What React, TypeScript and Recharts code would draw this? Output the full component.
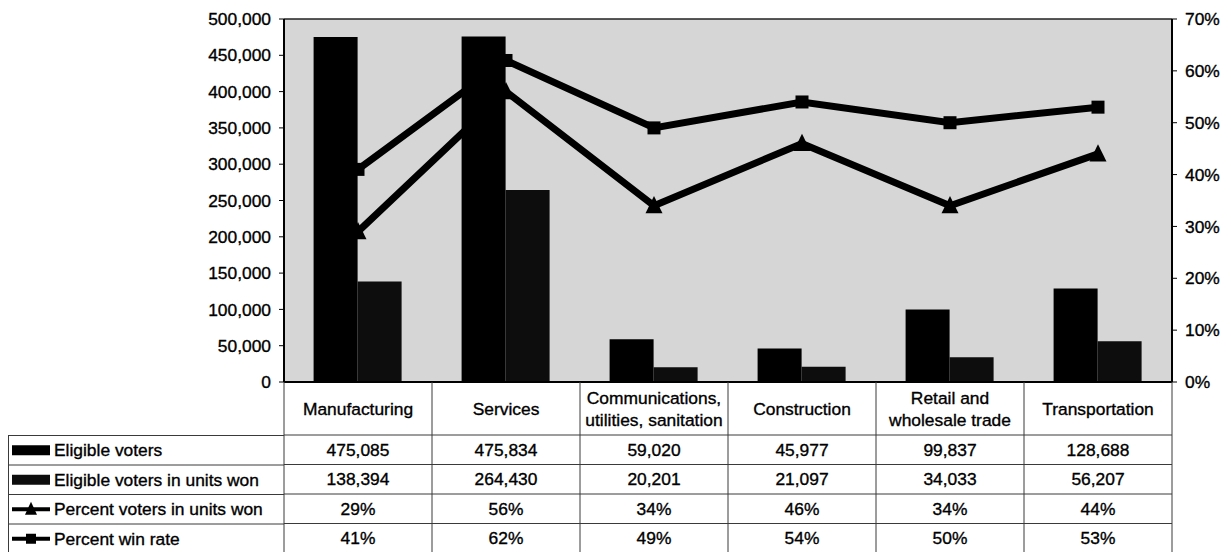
import {
  ComposedChart,
  Bar,
  Line,
  XAxis,
  YAxis,
  CartesianGrid,
  Legend,
  ReferenceLine,
} from "recharts";

const industries = [
  "Manufacturing",
  "Services",
  "Communications, utilities, sanitation",
  "Construction",
  "Retail and wholesale trade",
  "Transportation",
];
// how the column headers wrap in the table
const headerLines = [
  ["Manufacturing"],
  ["Services"],
  ["Communications,", "utilities, sanitation"],
  ["Construction"],
  ["Retail and", "wholesale trade"],
  ["Transportation"],
];

const eligibleVoters = [475085, 475834, 59020, 45977, 99837, 128688];
const votersInUnitsWon = [138394, 264430, 20201, 21097, 34033, 56207];
const pctVotersInUnitsWon = [29, 56, 34, 46, 34, 44];
const pctWinRate = [41, 62, 49, 54, 50, 53];

const leftTicks = [0, 50000, 100000, 150000, 200000, 250000, 300000, 350000, 400000, 450000, 500000];
const rightTicks = [0, 10, 20, 30, 40, 50, 60, 70];

const FONT = "'Liberation Sans', Arial, sans-serif";
const FS = 17.4;
const GRID = "#3a3a3a";
// scanned print looks a bit heavier than screen text
const TEXT_STROKE = { stroke: "#000", strokeWidth: 0.35 };

const data = industries.map((industry, i) => ({
  industry,
  eligible: eligibleVoters[i],
  won: votersInUnitsWon[i],
  pctWon: pctVotersInUnitsWon[i],
  winRate: pctWinRate[i],
}));

const fmtNum = (v: number) => v.toLocaleString("en-US");
const fmtPct = (v: number) => `${v}%`;

// table rows under the plot, same order as the legend
const tableRows = [
  eligibleVoters.map(fmtNum),
  votersInUnitsWon.map(fmtNum),
  pctVotersInUnitsWon.map(fmtPct),
  pctWinRate.map(fmtPct),
];

const HEADER_H = 53;
const ROW_H = 29.5;

function TableColumn(props: any) {
  const { x, y, payload, index } = props;
  const half = payload?.offset || 74;
  const i = index ?? payload?.index ?? 0;
  const left = x - half;
  const right = x + half;
  const bottom = y + HEADER_H + ROW_H * 4;
  const lines = headerLines[i] || [String(payload.value)];
  return (
    <g fontFamily={FONT} fontSize={FS}>
      <line x1={left} x2={left} y1={y} y2={bottom} stroke={GRID} strokeWidth={1} />
      {i === industries.length - 1 && (
        <line x1={right} x2={right} y1={y} y2={bottom} stroke={GRID} strokeWidth={1} />
      )}
      {[0, 1, 2, 3, 4].map((k) => (
        <line
          key={k}
          x1={left}
          x2={right}
          y1={y + HEADER_H + ROW_H * k}
          y2={y + HEADER_H + ROW_H * k}
          stroke={GRID}
          strokeWidth={1}
        />
      ))}
      {lines.map((t, k) => (
        <text
          key={t}
          x={x}
          y={y + HEADER_H / 2 + (k - (lines.length - 1) / 2) * 22}
          textAnchor="middle"
          dominantBaseline="central"
          fill="#000"
          {...TEXT_STROKE}
        >
          {t}
        </text>
      ))}
      {tableRows.map((row, k) => (
        <text
          key={k}
          x={x}
          y={y + HEADER_H + ROW_H * k + ROW_H / 2}
          textAnchor="middle"
          dominantBaseline="central"
          fill="#000"
          {...TEXT_STROKE}
        >
          {row[i]}
        </text>
      ))}
    </g>
  );
}

function Triangle({ cx, cy, size, fill }: any) {
  const h = size * 0.9;
  return (
    <polygon
      points={`${cx},${cy - h / 2 - 2} ${cx - size / 2},${cy + h / 2} ${cx + size / 2},${cy + h / 2}`}
      fill={fill}
    />
  );
}

function Square({ cx, cy, size, fill }: any) {
  return <rect x={cx - size / 2} y={cy - size / 2} width={size} height={size} fill={fill} />;
}

function LegendTable(props: any) {
  const { payload = [] } = props;
  const w = 276;
  return (
    <svg width={w} height={ROW_H * 4 + 2} style={{ display: "block" }} fontFamily={FONT} fontSize={FS}>
      <line x1={0.5} x2={0.5} y1={0} y2={ROW_H * 4 + 2} stroke={GRID} />
      {[0, 1, 2, 3].map((k) => (
        <line key={k} x1={0} x2={w} y1={ROW_H * k + 0.5} y2={ROW_H * k + 0.5} stroke={GRID} />
      ))}
      {payload.map((entry: any, k: number) => {
        const cy = ROW_H * k + ROW_H / 2 + 0.5;
        const color = entry.color || "#000";
        let swatch;
        if (entry.type === "triangle") {
          swatch = (
            <g>
              <line x1={4} x2={42} y1={cy} y2={cy} stroke={color} strokeWidth={4} />
              <Triangle cx={23} cy={cy} size={12} fill={color} />
            </g>
          );
        } else if (entry.type === "square") {
          swatch = (
            <g>
              <line x1={4} x2={42} y1={cy} y2={cy} stroke={color} strokeWidth={4} />
              <Square cx={23} cy={cy} size={10} fill={color} />
            </g>
          );
        } else {
          swatch = <rect x={4} y={cy - 5} width={38} height={10} fill={color} />;
        }
        return (
          <g key={entry.value}>
            {swatch}
            <text x={46} y={cy} dominantBaseline="central" fill="#000" {...TEXT_STROKE}>
              {entry.value}
            </text>
          </g>
        );
      })}
    </svg>
  );
}

export default function App() {
  const tickStyle = { fill: "#000", fontSize: FS, fontFamily: FONT, ...TEXT_STROKE };
  return (
    <div style={{ width: 1215, height: 544, fontFamily: FONT }}>
      <ComposedChart
        width={1215}
        height={544}
        data={data}
        margin={{ top: 11, right: 0, left: 0, bottom: 0 }}
        barCategoryGap="20%"
        barGap={0}
      >
        <CartesianGrid horizontal={false} vertical={false} fill="#d6d6d6" />
        <XAxis
          dataKey="industry"
          height={170}
          interval={0}
          tickLine={false}
          tickSize={0}
          tickMargin={0}
          axisLine={{ stroke: "#000", strokeWidth: 2 }}
          tick={<TableColumn />}
        />
        <YAxis
          yAxisId="left"
          width={276}
          domain={[0, 500000]}
          ticks={leftTicks}
          tickFormatter={fmtNum}
          tick={tickStyle}
          tickSize={5}
          tickMargin={8}
          axisLine={{ stroke: "#000", strokeWidth: 2 }}
          tickLine={{ stroke: "#000" }}
          interval={0}
        />
        <YAxis
          yAxisId="right"
          orientation="right"
          width={51}
          domain={[0, 70]}
          ticks={rightTicks}
          tickFormatter={fmtPct}
          tick={{ ...tickStyle, textAnchor: "start" }}
          tickSize={5}
          tickMargin={8}
          axisLine={{ stroke: "#000", strokeWidth: 2 }}
          tickLine={{ stroke: "#000" }}
          interval={0}
        />
        <ReferenceLine yAxisId="left" y={500000} stroke="#222" strokeWidth={1.5} />
        <Bar
          yAxisId="left"
          dataKey="eligible"
          name="Eligible voters"
          fill="#000"
          legendType="rect"
          isAnimationActive={false}
        />
        <Bar
          yAxisId="left"
          dataKey="won"
          name="Eligible voters in units won"
          fill="#0d0d0d"
          legendType="rect"
          isAnimationActive={false}
        />
        <Line
          yAxisId="right"
          dataKey="pctWon"
          name="Percent voters in units won"
          stroke="#000"
          strokeWidth={7}
          legendType="triangle"
          dot={(p: any) => <Triangle key={p.index} cx={p.cx} cy={p.cy} size={17} fill="#000" />}
          activeDot={false}
          isAnimationActive={false}
        />
        <Line
          yAxisId="right"
          dataKey="winRate"
          name="Percent win rate"
          stroke="#000"
          strokeWidth={7}
          legendType="square"
          dot={(p: any) => <Square key={p.index} cx={p.cx} cy={p.cy} size={13} fill="#000" />}
          activeDot={false}
          isAnimationActive={false}
        />
        <Legend
          layout="vertical"
          align="center"
          verticalAlign="middle"
          wrapperStyle={{ left: 0, top: 427, width: 276 }}
          content={<LegendTable />}
        />
      </ComposedChart>
    </div>
  );
}
